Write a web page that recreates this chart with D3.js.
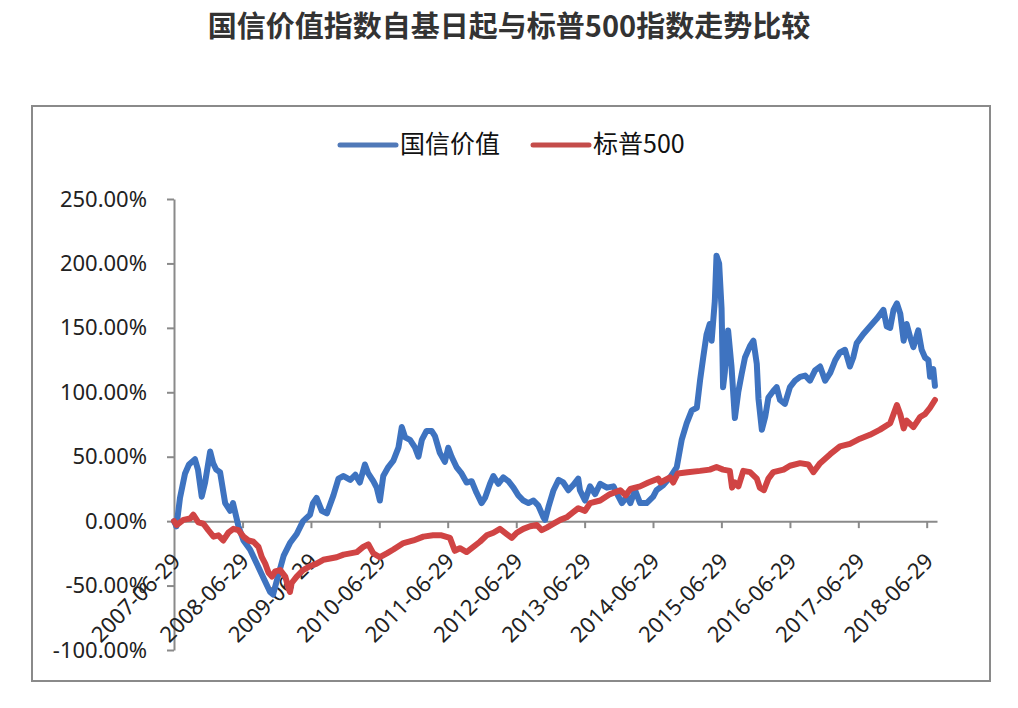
<!DOCTYPE html>
<html><head><meta charset="utf-8">
<script src="https://cdn.jsdelivr.net/npm/d3@7"></script>
<style>body{margin:0;background:#fff}svg{display:block}</style>
</head><body><svg id="c" width="1018" height="708"></svg>
<script>
const chartTitle = "国信价值指数自基日起与标普500指数走势比较";
const seriesNames = ["国信价值", "标普500"];
const seriesColors = ["#3e73c0", "#d04444"];
const legendColors = ["#5079b8", "#c44c4a"];
const xTickLabels = ["2007-06-29","2008-06-29","2009-06-29","2010-06-29","2011-06-29","2012-06-29","2013-06-29","2014-06-29","2015-06-29","2016-06-29","2017-06-29","2018-06-29"];
const xDomain = ["2007-06-29", "2018-08-23"];
const yTickValues = [250, 200, 150, 100, 50, 0, -50, -100];
const yDomain = [-100, 250];

const guoxinDates = ["2007-06-29","2007-07-12","2007-07-31","2007-08-27","2007-09-17","2007-10-19","2007-11-04","2007-11-24","2007-12-12","2008-01-08","2008-01-24","2008-02-09","2008-03-01","2008-03-28","2008-04-24","2008-05-09","2008-06-07","2008-07-04","2008-08-08","2008-09-13","2008-10-18","2008-11-23","2008-12-09","2008-12-29","2009-02-03","2009-03-09","2009-04-14","2009-05-18","2009-06-24","2009-07-10","2009-07-29","2009-08-26","2009-09-22","2009-10-27","2009-11-23","2009-12-20","2010-01-25","2010-02-21","2010-03-17","2010-04-13","2010-05-01","2010-05-28","2010-06-15","2010-07-02","2010-07-20","2010-08-16","2010-09-12","2010-10-09","2010-10-27","2010-11-14","2010-12-10","2011-01-06","2011-01-24","2011-02-11","2011-03-08","2011-04-04","2011-04-22","2011-05-18","2011-06-14","2011-07-02","2011-07-20","2011-08-15","2011-09-11","2011-10-08","2011-11-04","2011-11-30","2011-12-27","2012-01-14","2012-02-10","2012-02-28","2012-03-25","2012-04-21","2012-05-18","2012-06-14","2012-07-10","2012-08-06","2012-09-02","2012-09-29","2012-10-25","2012-11-21","2012-11-30","2012-12-18","2013-01-14","2013-02-10","2013-03-07","2013-04-03","2013-04-29","2013-05-26","2013-06-04","2013-07-01","2013-07-28","2013-08-24","2013-09-20","2013-10-26","2013-11-30","2013-12-27","2014-01-14","2014-02-10","2014-02-28","2014-03-25","2014-04-21","2014-05-26","2014-06-30","2014-07-18","2014-08-23","2014-09-28","2014-11-03","2014-11-29","2014-12-26","2015-01-22","2015-02-18","2015-03-07","2015-03-24","2015-04-11","2015-04-28","2015-05-08","2015-05-25","2015-06-03","2015-06-17","2015-06-30","2015-07-08","2015-07-17","2015-08-04","2015-08-22","2015-09-09","2015-09-27","2015-10-15","2015-11-02","2015-11-29","2015-12-17","2016-01-04","2016-01-13","2016-01-31","2016-02-18","2016-03-06","2016-04-01","2016-04-19","2016-05-07","2016-06-02","2016-06-29","2016-07-26","2016-08-22","2016-09-18","2016-10-14","2016-11-10","2016-12-07","2017-01-03","2017-01-30","2017-02-26","2017-03-23","2017-04-19","2017-05-15","2017-06-02","2017-06-20","2017-07-25","2017-08-30","2017-10-05","2017-11-10","2017-11-28","2017-12-16","2018-01-03","2018-01-21","2018-02-08","2018-02-26","2018-03-14","2018-04-01","2018-04-19","2018-05-15","2018-06-02","2018-06-20","2018-07-08","2018-07-17","2018-08-03","2018-08-12"];
const guoxinValues = [0,-4,18,37,44,48,40,19,30,54,45,40,38,14,8,14,-4,-15,-22,-33,-44,-55,-57,-46,-27,-17,-10,0,5,14,18,8,6,20,33,35,32,36,30,44,37,31,26,16,35,42,47,57,73,65,63,57,50,63,70,70,66,53,46,57,50,42,37,30,31,22,14,18,29,35,29,34,31,26,20,16,14,16,12,3,1,11,24,32,30,24,28,33,24,16,27,21,29,26,27,19,14,19,14,24,14,14,19,24,28,34,42,63,76,86,88,109,127,145,153,140,171,206,200,165,104,115,148,120,80,100,114,127,136,140,122,95,71,81,96,101,104,94,91,104,109,112,113,109,117,120,109,115,125,131,133,120,127,138,145,151,157,164,151,150,164,169,161,140,153,143,135,148,133,127,125,112,118,105];

const sp500Dates = ["2007-06-29","2007-07-13","2007-08-18","2007-09-23","2007-10-10","2007-11-06","2007-12-03","2007-12-29","2008-01-26","2008-02-21","2008-03-18","2008-04-14","2008-05-11","2008-06-07","2008-07-04","2008-07-30","2008-08-26","2008-09-22","2008-10-10","2008-10-28","2008-11-15","2008-12-03","2008-12-20","2009-01-16","2009-02-12","2009-03-01","2009-03-09","2009-03-18","2009-04-14","2009-05-18","2009-06-24","2009-07-29","2009-09-03","2009-10-09","2009-11-13","2009-12-20","2010-01-25","2010-03-01","2010-04-04","2010-05-01","2010-05-28","2010-07-02","2010-08-08","2010-09-12","2010-11-05","2010-12-28","2011-02-19","2011-04-12","2011-05-27","2011-07-11","2011-08-06","2011-09-02","2011-10-08","2011-11-13","2011-12-18","2012-01-23","2012-02-28","2012-04-03","2012-05-09","2012-06-05","2012-07-02","2012-08-06","2012-09-11","2012-10-17","2012-11-12","2012-12-09","2013-01-14","2013-02-19","2013-03-25","2013-04-29","2013-05-26","2013-07-01","2013-07-28","2013-09-20","2013-11-12","2014-01-05","2014-02-03","2014-02-28","2014-04-21","2014-06-04","2014-07-27","2014-08-08","2014-09-28","2014-10-15","2014-11-08","2014-12-31","2015-03-07","2015-04-28","2015-06-03","2015-07-08","2015-08-13","2015-08-25","2015-09-09","2015-09-28","2015-10-24","2015-11-29","2016-01-04","2016-01-20","2016-02-11","2016-03-06","2016-04-01","2016-05-26","2016-06-29","2016-08-22","2016-10-05","2016-11-01","2016-12-07","2017-01-30","2017-03-23","2017-05-15","2017-07-08","2017-08-30","2017-10-23","2017-12-16","2018-01-21","2018-02-08","2018-02-26","2018-03-14","2018-04-19","2018-05-26","2018-06-20","2018-07-17","2018-08-12"];
const sp500Values = [0,-3,1,2,5,-1,-2,-7,-12,-11,-15,-9,-6,-7,-12,-15,-16,-20,-28,-33,-40,-43,-39,-38,-43,-52,-55,-48,-43,-38,-35,-33,-30,-29,-28,-26,-25,-24,-20,-18,-25,-28,-25,-22,-17,-15,-12,-11,-11,-13,-23,-21,-24,-20,-16,-11,-9,-6,-10,-13,-9,-6,-4,-3,-7,-5,-2,1,3,7,10,8,14,16,21,24,20,25,27,30,33,30,34,30,37,38,39,40,42,40,39,26,30,27,39,38,33,26,24,33,38,40,43,45,44,38,45,52,58,60,64,67,71,76,90,83,72,78,73,81,83,88,94];

const svg = d3.select("#c");
const parse = d3.timeParse("%Y-%m-%d");
const fontLat = "'Noto Sans', 'Noto Sans CJK SC', sans-serif";
const fontCJK = "'Noto Sans CJK SC', 'Noto Sans', sans-serif";

// frame
svg.append("rect").attr("x", 32).attr("y", 106).attr("width", 958).attr("height", 575)
  .attr("fill", "#fff").attr("stroke", "#8a8a8a").attr("stroke-width", 2);

// title
svg.append("text").attr("x", 509).attr("y", 37).attr("text-anchor", "middle")
  .attr("font-family", fontCJK).attr("font-weight", "bold").attr("font-size", 29)
  .attr("fill", "#333").text(chartTitle);

const x = d3.scaleTime().domain(xDomain.map(parse)).range([174, 937]);
const y = d3.scaleLinear().domain(yDomain).range([650, 199]);

// y axis
const yAxis = svg.append("g").attr("transform", "translate(174,0)")
  .call(d3.axisLeft(y).tickValues(yTickValues).tickFormat(d => d.toFixed(2) + "%").tickSize(7).tickSizeOuter(0).tickPadding(20));
yAxis.selectAll("path,line").attr("stroke", "#8a8a8a").attr("stroke-width", 2);
yAxis.selectAll("text").attr("font-family", fontLat).attr("font-size", 22).attr("fill", "#222");

// x axis at zero
const xAxis = svg.append("g").attr("transform", `translate(0,${y(0)})`)
  .call(d3.axisBottom(x).tickValues(xTickLabels.map(parse)).tickFormat(d3.timeFormat("%Y-%m-%d")).tickSize(7).tickSizeOuter(0));
xAxis.selectAll("path,line").attr("stroke", "#8a8a8a").attr("stroke-width", 2);
xAxis.selectAll("text").attr("font-family", fontLat).attr("font-size", 22).attr("fill", "#222")
  .attr("x", 2).attr("y", 36).attr("dy", "0.35em").attr("text-anchor", "end")
  .attr("transform", "rotate(-45 2 36)");

const line = d3.line().x(d => x(d[0])).y(d => y(d[1]));
const series = [
  guoxinDates.map((d, i) => [parse(d), guoxinValues[i]]),
  sp500Dates.map((d, i) => [parse(d), sp500Values[i]])
];
series.forEach((s, i) => {
  svg.append("path").datum(s).attr("d", line).attr("fill", "none")
    .attr("stroke", seriesColors[i]).attr("stroke-width", 6)
    .attr("stroke-linejoin", "round").attr("stroke-linecap", "round");
});

// legend
const legendX = [340, 533];
seriesNames.forEach((n, i) => {
  svg.append("line").attr("x1", legendX[i]).attr("x2", legendX[i] + 56).attr("y1", 145).attr("y2", 145)
    .attr("stroke", legendColors[i]).attr("stroke-width", 5).attr("stroke-linecap", "round");
  svg.append("text").attr("x", legendX[i] + 60).attr("y", 153)
    .attr("font-family", fontCJK).attr("font-size", 25).attr("fill", "#111").text(n);
});
</script>
</body></html>
